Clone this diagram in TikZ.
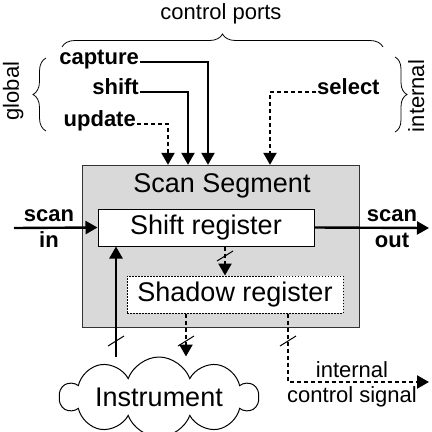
\documentclass[tikz,border=0pt]{standalone}
\usepackage{fontspec}
\setmainfont{Liberation Sans}
\usetikzlibrary{arrows.meta,shapes.symbols,decorations.pathreplacing}

\begin{document}
\begin{tikzpicture}[x=1pt,y=-1pt,
  sig/.style={line width=2.4pt,-{Triangle[length=12pt,width=13pt]}},
  dsig/.style={sig,dash pattern=on 4pt off 3pt},
  port/.style={font=\fontsize{22}{26}\selectfont\bfseries,inner sep=1pt,text height=.75em,text depth=.25em},
  note/.style={font=\fontsize{22}{25}\selectfont,align=center,text height=.75em,text depth=.25em},
  big/.style={font=\fontsize{27}{30}\selectfont},
  reg/.style={big,draw,fill=white,line width=1pt,minimum width=216pt,minimum height=37pt},
  grp/.style={decorate,decoration={brace,amplitude=#1},line width=0.8pt},
  slash/.style={line width=1pt}]
\useasboundingbox (0,0) rectangle (432,432);
% segment and registers
\node[draw=black!80,fill=gray!30,minimum width=277pt,minimum height=162pt] (seg) at (220.5,246) {};
\node[big] (segname) at (222,186) {Scan Segment};
\node[reg] (shiftreg) at (206,227.5) {Shift register};
\node[reg,dash pattern=on 1.5pt off 1.5pt] (shadowreg) at (235,294.5) {Shadow register};
\node[cloud,draw,line width=1pt,cloud puffs=10,cloud puff arc=140,cloud ignores aspect,inner sep=0pt,minimum width=198pt,minimum height=80pt] (instr) at (159,397) {};
\node[big] (instrname) at (instr.center) {Instrument};
% control ports
\node[port,anchor=east] (capture) at (140,62) {capture};
\node[port,anchor=east] (shift) at (140,92) {shift};
\node[port,anchor=east] (update) at (137,124) {update};
\node[port,anchor=west] (select) at (316,92) {select};
\coordinate (cx1) at (168,0);\coordinate (cx2) at (188,0);
\coordinate (cx3) at (208,0);\coordinate (cx4) at (270,0);
\draw[sig] (capture.east) -| (seg.north -| cx3);
\draw[sig] (shift.east) -| (seg.north -| cx2);
\draw[dsig] (update.east) -| (seg.north -| cx1);
\draw[dsig] (select.west) -| (seg.north -| cx4);
% braces
\node[note] (ports) at (221,17) {control ports};
\draw[grp=13pt] (62,47) -- (383,47);
\node[note,rotate=90] (global) at (16.5,91) {global};
\draw[grp=13pt] (46,131) -- (46,58);
\node[note,rotate=90] (internal) at (421.5,96) {internal};
\draw[grp=12pt] (395,57) -- (395,132);
% scan path
\node[port,align=center,text height=,text depth=] (scanin) at (49,229) {scan\\in};
\node[port,align=center,text height=,text depth=] (scanout) at (392,229) {scan\\out};
\coordinate (sin) at (14,228);\coordinate (sout) at (429,228);
\draw[sig] (sin) -- (shiftreg.west);
\draw[sig] (shiftreg.east) -- (sout);
% data and internal signal
\coordinate (dx1) at (116,0);\coordinate (dx2) at (186,0);
\coordinate (dx3) at (225,0);\coordinate (dx4) at (288,0);
\draw[dsig] (shiftreg.south -| dx3) -- (shadowreg.north -| dx3);
\draw[sig] (instr.north -| dx1) -- (shiftreg.south -| dx1);
\draw[dsig] (shadowreg.south -| dx2) -- (instr.north -| dx2);
\node[note,text height=,text depth=] (icsig) at (352,384) {internal\\control signal};
\coordinate (icout) at (429,382);
\draw[dsig] (shadowreg.south -| dx4) |- (icout);
% bus marks
\coordinate (m1) at (225,256);\coordinate (m2) at (116,341);
\coordinate (m3) at (186,341);\coordinate (m4) at (288,341);
\foreach \m in {m1,m2,m3,m4}
  \draw[slash] ([shift={(-8,5)}]\m) -- ([shift={(8,-5)}]\m);
\end{tikzpicture}
\end{document}
